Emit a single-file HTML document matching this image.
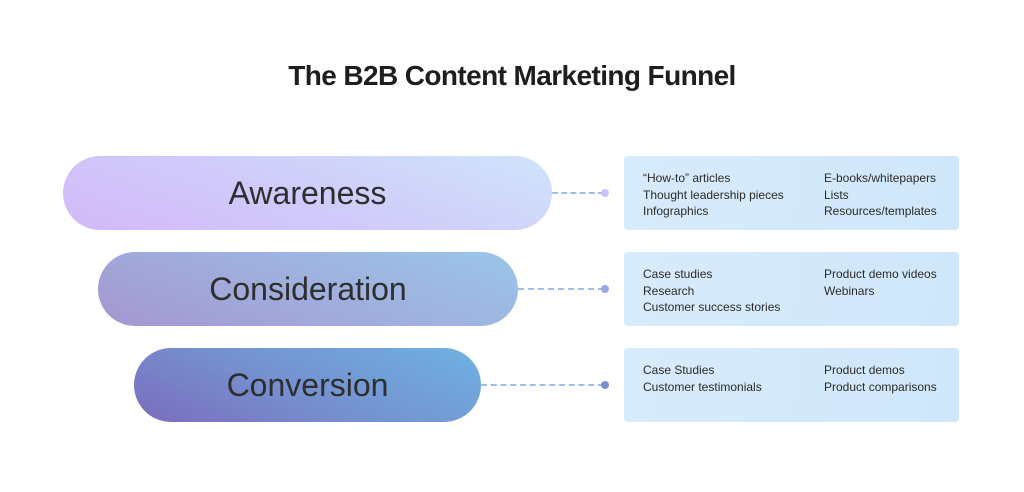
<!DOCTYPE html>
<html><head><style>
body{margin:0;width:1024px;height:492px;background:#fff;font-family:"Liberation Sans",sans-serif;position:relative;overflow:hidden}
.t{position:absolute;top:60px;left:0;width:1024px;text-align:center;font-size:28px;font-weight:bold;color:#1e1e1e;letter-spacing:-0.6px}
.p{position:absolute;height:74px;border-radius:37px;display:flex;align-items:center;justify-content:center;font-size:32px;color:#2e2e2e}
.b{position:absolute;left:624px;width:335px;height:74px;border-radius:4px;background:linear-gradient(100deg,#d8ebfb,#cfe7fa);font-size:12px;color:#2a2a2a;line-height:16.5px}
.b div{position:absolute;top:14px}
.l{position:absolute;border-top:2px dashed #9fbde6;height:0}
.d{position:absolute;width:8px;height:8px;border-radius:50%}
</style></head><body>
<div class="t">The B2B Content Marketing Funnel</div>
<div class="p" style="left:63px;top:156px;width:489px;background:linear-gradient(200deg,#cfe4fb 0%,#d0c8fa 60%,#d3b9f8 100%)">Awareness</div>
<div class="p" style="left:98px;top:252px;width:420px;background:linear-gradient(200deg,#9ac6ea 0%,#a1aadb 60%,#a497cf 100%)">Consideration</div>
<div class="p" style="left:134px;top:348px;width:347px;background:linear-gradient(205deg,#6fb2e2 0%,#7590cf 55%,#7b6cbc 100%)">Conversion</div>
<div class="l" style="left:552px;top:192px;width:52px"></div><div class="d" style="left:601px;top:189px;background:#c8c4f6"></div>
<div class="l" style="left:518px;top:288px;width:86px"></div><div class="d" style="left:601px;top:285px;background:#97a9dc"></div>
<div class="l" style="left:481px;top:384px;width:123px"></div><div class="d" style="left:601px;top:381px;background:#7b8fd0"></div>
<div class="b" style="top:156px"><div style="left:19px">“How-to” articles<br>Thought leadership pieces<br>Infographics</div><div style="left:200px">E-books/whitepapers<br>Lists<br>Resources/templates</div></div>
<div class="b" style="top:252px"><div style="left:19px">Case studies<br>Research<br>Customer success stories</div><div style="left:200px">Product demo videos<br>Webinars</div></div>
<div class="b" style="top:348px"><div style="left:19px">Case Studies<br>Customer testimonials</div><div style="left:200px">Product demos<br>Product comparisons</div></div>
</body></html>
